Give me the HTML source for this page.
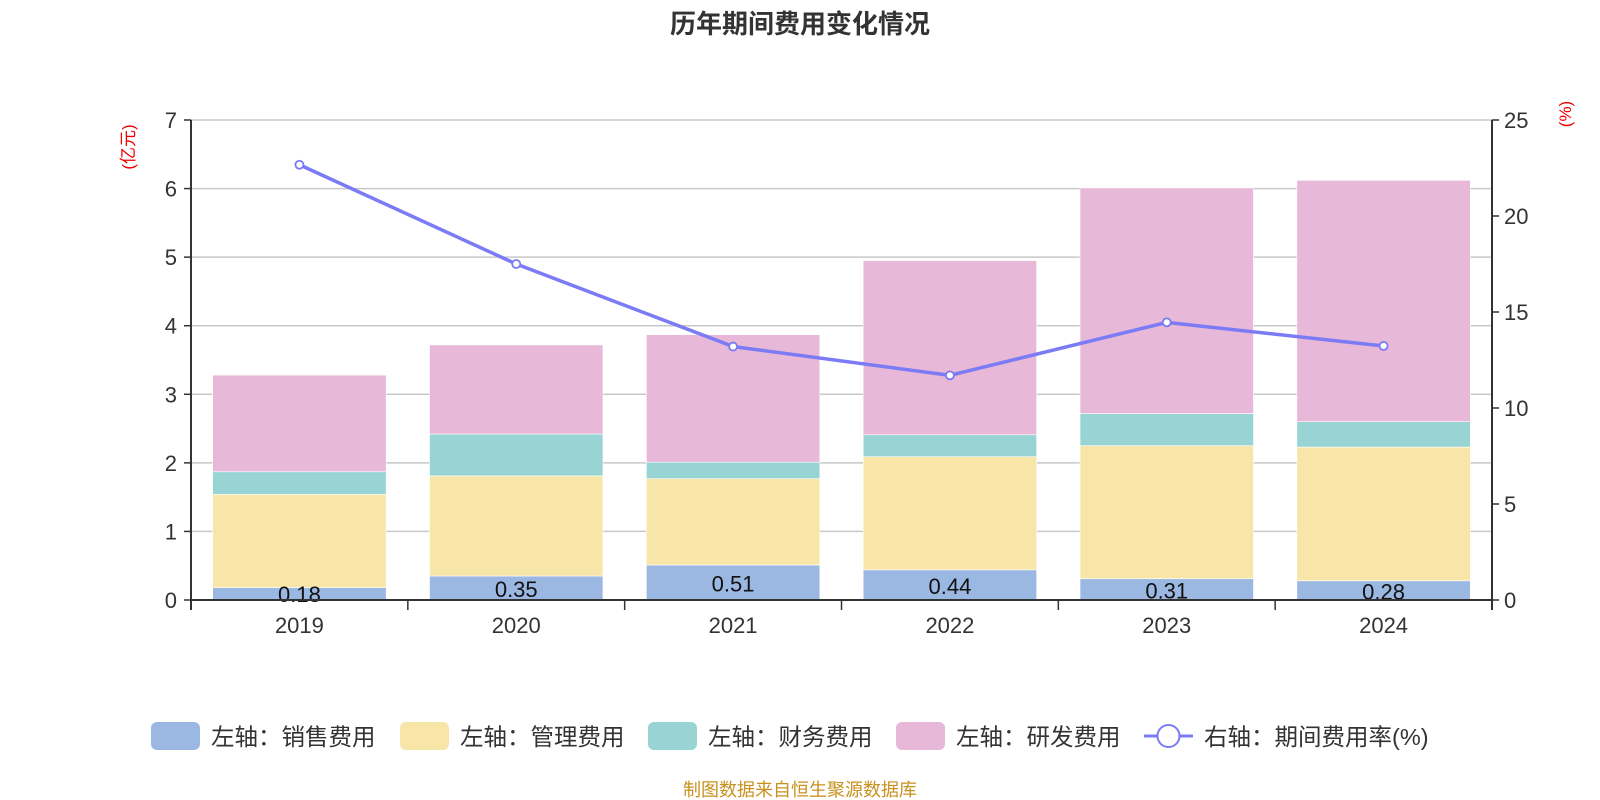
<!DOCTYPE html>
<html><head><meta charset="utf-8"><style>
html,body{margin:0;padding:0;background:#fff;}
svg{display:block;font-family:"Liberation Sans","Noto Sans CJK SC",sans-serif;}
</style></head><body>
<svg id="chart" width="1600" height="800" viewBox="0 0 1600 800">
<text x="800" y="33" text-anchor="middle" font-size="26" font-weight="bold" fill="#333">历年期间费用变化情况</text>
<text transform="translate(134,147) rotate(-90)" text-anchor="middle" font-size="17" fill="#e00">(亿元)</text>
<text transform="translate(1571,114) rotate(-90)" text-anchor="middle" font-size="17" fill="#e00">(%)</text>
<g id="grid"></g><g id="bars"></g><g id="axes"></g><g id="line"></g>
<g id="legend"></g>
<text x="800" y="796" text-anchor="middle" font-size="18" fill="#c8901e">制图数据来自恒生聚源数据库</text>
</svg>
<script>
const categories=["2019","2020","2021","2022","2023","2024"];
const sales=[0.18,0.35,0.51,0.44,0.31,0.28];
const mgmt=[1.36,1.46,1.26,1.65,1.94,1.95];
const fin=[0.33,0.61,0.24,0.32,0.47,0.37];
const rnd=[1.41,1.30,1.86,2.54,3.29,3.52];
const rate=[22.67,17.5,13.2,11.7,14.46,13.23];
const leftTicks=[0,1,2,3,4,5,6,7];
const rightTicks=[0,5,10,15,20,25];
const seriesNames=["左轴：销售费用","左轴：管理费用","左轴：财务费用","左轴：研发费用"];
const colors=["#9bb8e2","#f8e6a8","#98d4d4","#e7b8d8"];
const NS="http://www.w3.org/2000/svg";
const X0=191,X1=1492,Y0=600,Y1=120;
const band=(X1-X0)/categories.length;
const yL=v=>Y0-(v/7)*(Y0-Y1);
const yR=v=>Y0-(v/25)*(Y0-Y1);
const xC=i=>X0+band*(i+0.5);
function mk(tag,attrs,parent,txt){const e=document.createElementNS(NS,tag);for(const k in attrs)e.setAttribute(k,attrs[k]);if(txt!==undefined)e.textContent=txt;document.getElementById(parent).appendChild(e);return e;}
leftTicks.forEach(t=>{
 if(t>0){const g=mk('line',{x1:X0,x2:X1,y1:yL(t),y2:yL(t),stroke:'#c8c8c8','stroke-width':1.5},'grid');
 
 }
 const tk=mk('line',{x1:X0-7,x2:X0,y1:yL(t),y2:yL(t),stroke:'#333','stroke-width':1.5},'axes');
 
 
 const l=mk('text',{x:X0-14,y:yL(t)+8,'text-anchor':'end','font-size':22,fill:'#333'},'axes',String(t));
 
 
});
rightTicks.forEach(t=>{
 const tk=mk('line',{x1:X1,x2:X1+7,y1:yR(t),y2:yR(t),stroke:'#333','stroke-width':1.5},'axes');
 
 
 const l=mk('text',{x:X1+12,y:yR(t)+8,'font-size':22,fill:'#333'},'axes',String(t));
 
 
});
[['left-axis-line',X0],['right-axis-line',X1]].forEach(([n,x])=>{
 const a=mk('line',{x1:x,x2:x,y1:Y1,y2:Y0+10,stroke:'#333','stroke-width':2},'axes');
 
 
});
const xa=mk('line',{x1:X0,x2:X1,y1:Y0,y2:Y0,stroke:'#333','stroke-width':2},'axes');


for(let i=0;i<=categories.length;i++){
 const tk=mk('line',{x1:X0+band*i,x2:X0+band*i,y1:Y0,y2:Y0+10,stroke:'#333','stroke-width':1.5},'axes');
 
 
}
categories.forEach((c,i)=>{
 const l=mk('text',{x:xC(i),y:Y0+33,'text-anchor':'middle','font-size':22,fill:'#333'},'axes',c);
 
 
});
const series=[sales,mgmt,fin,rnd];
const bw=band*0.8;
categories.forEach((c,i)=>{
 let acc=0;
 series.forEach((s,k)=>{
  const r=mk('rect',{x:xC(i)-bw/2,y:yL(acc+s[i]),width:bw,height:yL(acc)-yL(acc+s[i]),fill:colors[k],stroke:'#fff','stroke-width':0.6},'bars');
  
  
  acc+=s[i];
 });
 const l=mk('text',{x:xC(i),y:Math.min(yL(sales[i]/2)+9,Y0+2),'text-anchor':'middle','font-size':22,fill:'#111'},'bars',sales[i].toFixed(2));
 
 
});
const pts=rate.map((v,i)=>xC(i)+','+yR(v)).join(' ');
const pl=mk('polyline',{points:pts,fill:'none',stroke:'#7b7bf5','stroke-width':3.5},'line');


rate.forEach((v,i)=>{
 const p=mk('circle',{cx:xC(i),cy:yR(v),r:4,fill:'#fff',stroke:'#7b7bf5','stroke-width':1.8},'line');
 
 
});
const lx=[151,400,648,896];
seriesNames.forEach((n,k)=>{
 const r=mk('rect',{x:lx[k],y:722,width:49,height:28,rx:6,fill:colors[k]},'legend');
 
 
 const t=mk('text',{x:lx[k]+60,y:745,'font-size':23.5,fill:'#333'},'legend',n);
 
 
});
const ll=mk('line',{x1:1144,x2:1193,y1:736,y2:736,stroke:'#7b7bf5','stroke-width':3},'legend');


const lc=mk('circle',{cx:1168.5,cy:736,r:11,fill:'#fff',stroke:'#7b7bf5','stroke-width':2},'legend');


const lt=mk('text',{x:1204,y:745,'font-size':23.5,fill:'#333'},'legend','右轴：期间费用率(%)');


</script>
</body></html>
